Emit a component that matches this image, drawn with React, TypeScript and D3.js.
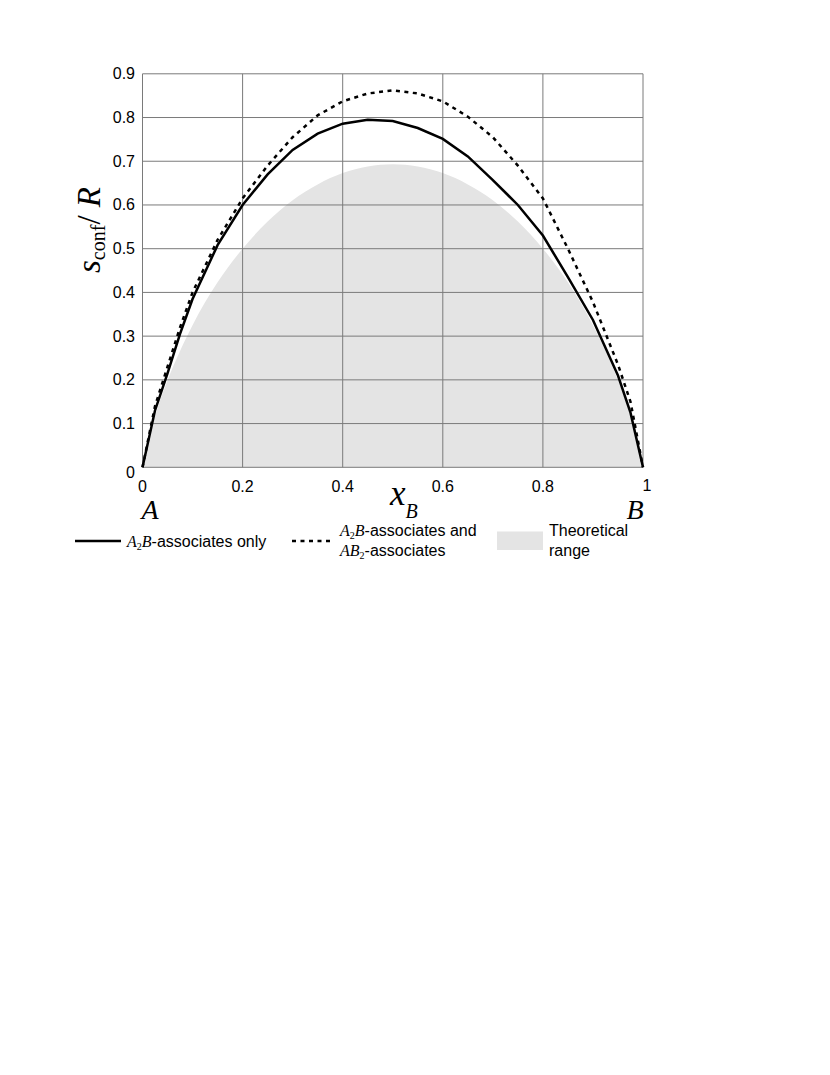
import * as d3 from "d3";

// mole fraction of B at which the curves were read
const xs = [0, 0.025, 0.05, 0.075, 0.1, 0.15, 0.2, 0.25, 0.3, 0.35, 0.4, 0.45, 0.5,
  0.55, 0.6, 0.65, 0.7, 0.75, 0.8, 0.85, 0.9, 0.95, 0.975, 1];

// A2B-associates only (solid)
const a2bOnly = [0, 0.13, 0.215, 0.305, 0.385, 0.508, 0.6, 0.67, 0.726, 0.763, 0.786, 0.795, 0.792,
  0.776, 0.751, 0.711, 0.657, 0.6, 0.53, 0.435, 0.337, 0.21, 0.125, 0];

// A2B- and AB2-associates (dashed)
const bothAssoc = [0, 0.14, 0.23, 0.32, 0.4, 0.52, 0.615, 0.69, 0.755, 0.805, 0.837, 0.855, 0.862,
  0.855, 0.837, 0.802, 0.755, 0.69, 0.615, 0.5, 0.378, 0.235, 0.15, 0];

// theoretical range (grey area upper edge)
const rangeX = [0, 0.01, 0.025, 0.05, 0.075, 0.1, 0.15, 0.2, 0.25, 0.3, 0.35, 0.4, 0.45, 0.5,
  0.55, 0.6, 0.65, 0.7, 0.75, 0.8, 0.85, 0.9, 0.925, 0.95, 0.975, 0.99, 1];
const rangeTop = [0, 0.056, 0.117, 0.199, 0.266, 0.325, 0.423, 0.5, 0.562, 0.611, 0.647, 0.673, 0.688, 0.693,
  0.688, 0.673, 0.647, 0.611, 0.562, 0.5, 0.423, 0.325, 0.266, 0.199, 0.117, 0.056, 0];

const xTicks = [0, 0.2, 0.4, 0.6, 0.8, 1];
const yTicks = [0, 0.1, 0.2, 0.3, 0.4, 0.5, 0.6, 0.7, 0.8, 0.9];

const SANS = "'Liberation Sans', Arial, sans-serif";
const SERIF = "'Liberation Serif', 'Times New Roman', serif";
const GRID = "#7a7a7a";

export default function App() {
  const x = d3.scaleLinear().domain([0, 1]).range([142.5, 643]);
  const y = d3.scaleLinear().domain([0, 0.9]).range([467.3, 73.8]);

  const line = d3.line<number>()
    .x((_, i) => x(xs[i]))
    .y(d => y(d));

  const area = d3.area<number>()
    .x((_, i) => x(rangeX[i]))
    .y0(y(0))
    .y1(d => y(d))
    .curve(d3.curveMonotoneX);

  const fmt = (v: number) => (v === 0 || v === 1 ? String(v) : v.toFixed(1));

  return (
    <svg width={830} height={1075} style={{position: "absolute", left: 0, top: 0, background: "#fff"}}>
      <path d={area(rangeTop) ?? ""} fill="#e4e4e4" />

      {/* grid */}
      <g stroke={GRID} strokeWidth={1}>
        {xTicks.map(t => (
          <line key={"gx" + t} x1={x(t)} x2={x(t)} y1={y(0)} y2={y(0.9)} />
        ))}
        {yTicks.map(t => (
          <line key={"gy" + t} x1={x(0)} x2={x(1)} y1={y(t)} y2={y(t)} />
        ))}
      </g>

      <path d={line(bothAssoc) ?? ""} fill="none" stroke="#000" strokeWidth={2.5} strokeDasharray="4,4.5" />
      <path d={line(a2bOnly) ?? ""} fill="none" stroke="#000" strokeWidth={2.5} />

      {/* tick labels */}
      <g fontFamily={SANS} fontSize={16} fill="#000">
        {yTicks.map(t => (
          <text key={"ty" + t} x={135} y={t === 0 ? y(t) + 11 : y(t) + 5.5} textAnchor="end">{fmt(t)}</text>
        ))}
        {xTicks.map(t => (
          <text key={"tx" + t} x={t === 1 ? x(t) + 4 : x(t)} y={t === 1 ? 491 : 492} textAnchor="middle">{fmt(t)}</text>
        ))}
      </g>

      {/* axis titles */}
      <text transform="translate(100,230) rotate(-90)" textAnchor="middle" fontFamily={SERIF} fontSize={33}>
        <tspan fontStyle="italic">s</tspan>
        <tspan fontSize={20} dy={5}>conf</tspan>
        <tspan dy={-5}>/ </tspan>
        <tspan fontStyle="italic">R</tspan>
      </text>
      <text x={390} y={505} fontFamily={SERIF} fontStyle="italic" fontSize={35}>
        x<tspan fontSize={20} dy={13}>B</tspan>
      </text>
      <text x={150} y={519} textAnchor="middle" fontFamily={SERIF} fontStyle="italic" fontSize={28}>A</text>
      <text x={635} y={519} textAnchor="middle" fontFamily={SERIF} fontStyle="italic" fontSize={28}>B</text>

      {/* legend */}
      <line x1={75} x2={121} y1={541} y2={541} stroke="#000" strokeWidth={2.5} />
      <text x={127} y={547} fontFamily={SANS} fontSize={16}>
        <tspan fontFamily={SERIF} fontStyle="italic">A</tspan>
        <tspan fontFamily={SERIF} fontSize={10} dy={3}>2</tspan>
        <tspan fontFamily={SERIF} fontStyle="italic" dy={-3}>B</tspan>
        <tspan>-associates only</tspan>
      </text>

      <line x1={292} x2={331} y1={541} y2={541} stroke="#000" strokeWidth={2.5} strokeDasharray="4,4.5" />
      <text x={340} y={536} fontFamily={SANS} fontSize={16}>
        <tspan fontFamily={SERIF} fontStyle="italic">A</tspan>
        <tspan fontFamily={SERIF} fontSize={10} dy={3}>2</tspan>
        <tspan fontFamily={SERIF} fontStyle="italic" dy={-3}>B</tspan>
        <tspan>-associates and</tspan>
      </text>
      <text x={340} y={556} fontFamily={SANS} fontSize={16}>
        <tspan fontFamily={SERIF} fontStyle="italic">AB</tspan>
        <tspan fontFamily={SERIF} fontSize={10} dy={3}>2</tspan>
        <tspan dy={-3}>-associates</tspan>
      </text>

      <rect x={497} y={531.5} width={46} height={18.5} fill="#e4e4e4" />
      <text x={549} y={536} fontFamily={SANS} fontSize={16}>Theoretical</text>
      <text x={549} y={556} fontFamily={SANS} fontSize={16}>range</text>
    </svg>
  );
}
